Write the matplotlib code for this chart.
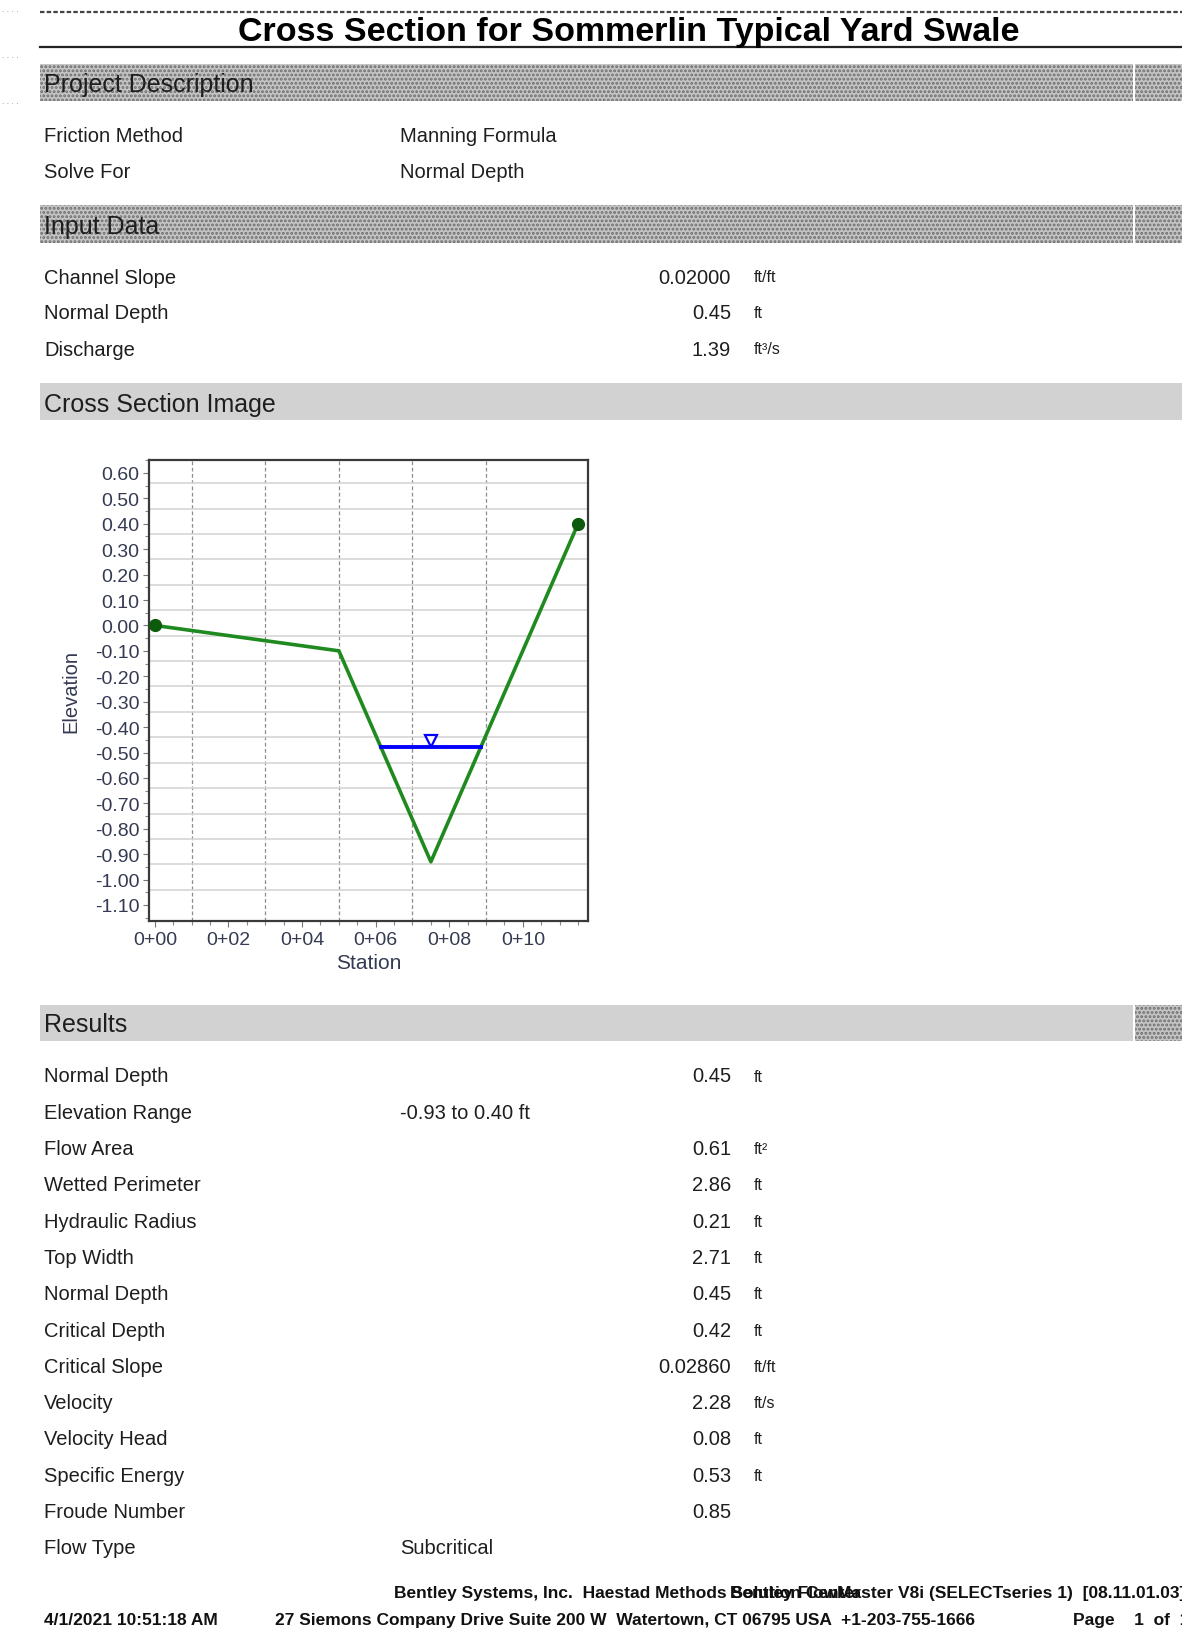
import numpy as np
import matplotlib
matplotlib.use('Agg')
import matplotlib.pyplot as plt
from matplotlib.patches import Rectangle
from matplotlib.lines import Line2D
from matplotlib.ticker import MultipleLocator
from matplotlib import transforms

plt.rcParams['font.family'] = ['Liberation Sans', 'DejaVu Sans']
plt.rcParams['hatch.linewidth'] = 1.4

# --- report data ---
title = 'Cross Section for Sommerlin Typical Yard Swale'

project_labels = ['Friction Method', 'Solve For']
project_values = ['Manning Formula', 'Normal Depth']

input_labels = ['Channel Slope', 'Normal Depth', 'Discharge']
input_values = ['0.02000', '0.45', '1.39']
input_units = ['ft/ft', 'ft', 'ft³/s']

result_labels = ['Normal Depth', 'Elevation Range', 'Flow Area', 'Wetted Perimeter',
                 'Hydraulic Radius', 'Top Width', 'Normal Depth', 'Critical Depth',
                 'Critical Slope', 'Velocity', 'Velocity Head', 'Specific Energy',
                 'Froude Number', 'Flow Type']
result_values = ['0.45', '-0.93 to 0.40 ft', '0.61', '2.86', '0.21', '2.71', '0.45',
                 '0.42', '0.02860', '2.28', '0.08', '0.53', '0.85', 'Subcritical']
result_units = ['ft', '', 'ft²', 'ft', 'ft', 'ft', 'ft', 'ft', 'ft/ft', 'ft/s',
                'ft', 'ft', '', '']
text_results = ['Elevation Range', 'Flow Type']

# --- cross section data ---
station = [0.0, 5.0, 7.5, 11.5]
elevation = [0.00, -0.10, -0.93, 0.40]
water_station = [6.14, 8.85]
water_elevation = [-0.48, -0.48]

elev_ticks = [0.60, 0.50, 0.40, 0.30, 0.20, 0.10, 0.00, -0.10, -0.20, -0.30, -0.40,
              -0.50, -0.60, -0.70, -0.80, -0.90, -1.00, -1.10]
station_ticks = [0, 2, 4, 6, 8, 10]
station_labels = ['0+00', '0+02', '0+04', '0+06', '0+08', '0+10']

W, H = 1182, 1640
fig = plt.figure(figsize=(W / 100, H / 100), dpi=100)


def fx(x):
    return x / W


def fy(y):
    return 1 - y / H


def band(y0, y1, x0=40, x1=W, dither=False):
    if dither:
        r = Rectangle((fx(x0), fy(y1)), (x1 - x0) / W, (y1 - y0) / H,
                      transform=fig.transFigure, facecolor='#c4c4c4',
                      edgecolor='#6e6e6e', hatch='....', lw=0)
    else:
        r = Rectangle((fx(x0), fy(y1)), (x1 - x0) / W, (y1 - y0) / H,
                      transform=fig.transFigure, facecolor='#d2d2d2', lw=0)
    fig.patches.append(r)


def txt(x, y, s, size=14.5, **kw):
    kw.setdefault('color', '#1e1e1e')
    fig.text(fx(x), fy(y), s, fontsize=size, va='center', **kw)


# title block
fig.add_artist(Line2D([fx(40), 1], [fy(13), fy(13)], transform=fig.transFigure,
                      color='#444444', lw=1.6, ls=(0, (2, 1))))
fig.add_artist(Line2D([fx(40), 1], [fy(48), fy(48)], transform=fig.transFigure,
                      color='#222222', lw=1.6))
txt(629, 33, title, size=24.5, weight='bold', ha='center', color='black')
for yy in (10, 56, 103):
    txt(2, yy, '. . . .', size=6, color='#888888')

# project description
band(65, 102, x1=1133, dither=True)
band(65, 102, x0=1135, dither=True)
txt(44, 85, 'Project Description', size=18)
for i, (lab, val) in enumerate(zip(project_labels, project_values)):
    y = 137 + i * 36
    txt(44, y, lab)
    txt(400, y, val)

# input data
band(206, 244, x1=1133, dither=True)
band(206, 244, x0=1135, dither=True)
txt(44, 227, 'Input Data', size=18)
for i, (lab, val, unit) in enumerate(zip(input_labels, input_values, input_units)):
    y = 278 + i * 36
    txt(44, y, lab)
    txt(731, y, val, ha='right')
    txt(754, y, unit, size=11.5)

# cross section image
band(384, 421)
txt(44, 405, 'Cross Section Image', size=18)

ax = fig.add_axes([fx(149), fy(922), (588 - 149) / W, (922 - 461) / H])
for s in [1, 3, 5, 7, 9]:
    ax.axvline(s, color='#8c8c8c', lw=0.9, ls=(0, (3, 2)), zorder=1)
for e in np.arange(0.56, -1.1, -0.1):
    ax.axhline(e, color='#d6d6d6', lw=1.2, zorder=1)

ax.plot(station, elevation, color='#1f8a1f', lw=2.6, zorder=3)
ax.plot([station[0], station[-1]], [elevation[0], elevation[-1]], 'o', ms=8.5,
        color='#0c5a0c', zorder=4, clip_on=False)
ax.plot(water_station, water_elevation, color='#0000ff', lw=2.8, zorder=3)
tri = transforms.offset_copy(ax.transData, fig=fig, x=0, y=6, units='dots')
ax.plot([np.mean(water_station)], [water_elevation[0]], marker='v', ms=8,
        mfc='white', mec='#0000ff', mew=1.6, transform=tri, zorder=5)

ax.set_xlim(-0.16, 11.77)
ax.set_ylim(-1.163, 0.651)
ax.set_yticks(elev_ticks)
ax.set_yticklabels([f'{v:.2f}' for v in elev_ticks])
ax.set_xticks(station_ticks)
ax.set_xticklabels(station_labels)
ax.xaxis.set_minor_locator(MultipleLocator(0.5))
ax.yaxis.set_minor_locator(MultipleLocator(0.05))
ax.tick_params(which='major', length=4, width=0.8, color='#777777', labelsize=14,
               labelcolor='#343a52', pad=3)
ax.tick_params(which='minor', length=3, width=0.8, color='#888888')
for sp in ax.spines.values():
    sp.set_color('#3a3a3a')
    sp.set_linewidth(1.6)
ax.set_xlabel('Station', fontsize=15, color='#343a52', labelpad=4)
ax.set_ylabel('Elevation', fontsize=14.5, color='#343a52')
ax.yaxis.set_label_coords(-0.157, 0.5)

# results
band(1006, 1042, x1=1133)
band(1006, 1042, x0=1135, dither=True)
txt(44, 1025, 'Results', size=18)
for i, (lab, val, unit) in enumerate(zip(result_labels, result_values, result_units)):
    y = 1077 + i * 36.3
    txt(44, y, lab)
    if lab in text_results:
        txt(400, y, val)
    else:
        txt(731, y, val, ha='right')
        txt(754, y, unit, size=11.5)

# footer (the two header strings overlap in the original printout)
fkw = dict(size=12.5, weight='bold', color='#111111')
txt(394, 1594, 'Bentley Systems, Inc.  Haestad Methods Solution Center', **fkw)
txt(730, 1594, 'Bentley FlowMaster V8i (SELECTseries 1)  [08.11.01.03]', **fkw)
txt(44, 1621, '4/1/2021 10:51:18 AM', **fkw)
txt(275, 1621, '27 Siemons Company Drive Suite 200 W  Watertown, CT 06795 USA  +1-203-755-1666', **fkw)
txt(1073, 1621, 'Page    1  of  1', **fkw)

fig.savefig('out.png', dpi=100)
